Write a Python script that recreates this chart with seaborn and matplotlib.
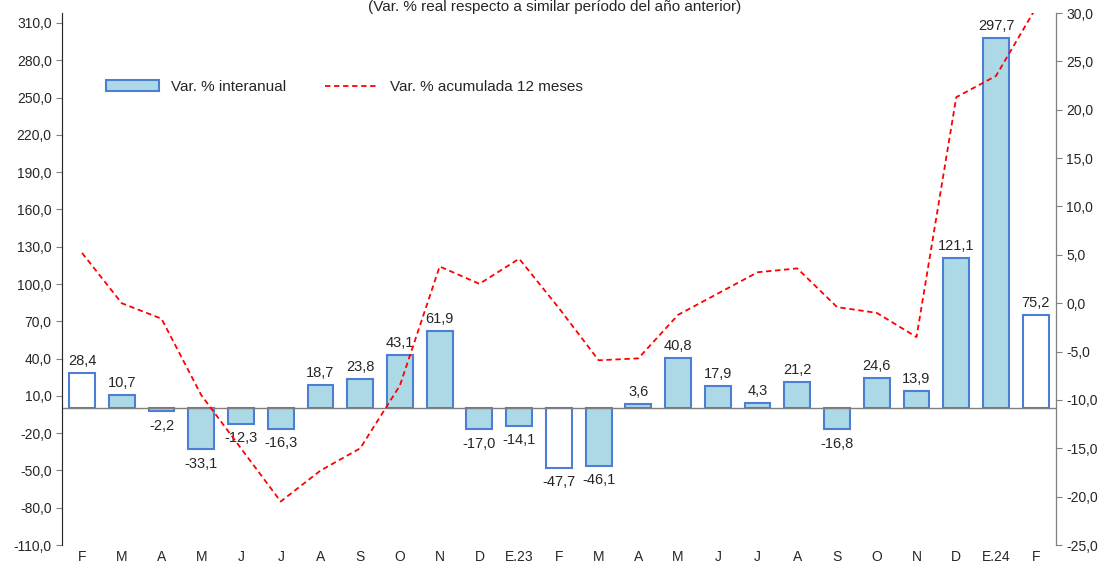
import matplotlib
matplotlib.use("Agg")
import matplotlib.pyplot as plt
from matplotlib.patches import Patch
import seaborn as sns
import numpy as np
import pandas as pd

months = ["F","M","A","M","J","J","A","S","O","N","D","E.23","F","M","A","M","J","J","A","S","O","N","D","E.24","F"]
interanual = [28.4,10.7,-2.2,-33.1,-12.3,-16.3,18.7,23.8,43.1,61.9,-17.0,-14.1,-47.7,-46.1,3.6,40.8,17.9,4.3,21.2,-16.8,24.6,13.9,121.1,297.7,75.2]
acumulada = [5.2,0.0,-1.6,-9.5,-15.0,-20.5,-17.3,-15.0,-8.5,3.8,2.0,4.6,-0.5,-5.9,-5.7,-1.2,1.0,3.2,3.6,-0.4,-1.0,-3.5,21.3,23.5,30.5]
white_idx = [0,12,24]

sns.set_style("white")
plt.rcParams['font.family'] = ['Liberation Sans','DejaVu Sans']
fig = plt.figure(figsize=(11.10,5.66), dpi=100)
ax = fig.add_axes([0.056,0.037,0.895,0.94])
x = np.arange(len(months))
df = pd.DataFrame({"x":x,"v":interanual})
sns.barplot(data=df, x="x", y="v", ax=ax, color="#add8e6", edgecolor="#4a7fd4", linewidth=1.5, width=0.65, saturation=1)
for i,p in enumerate(ax.patches):
    if i in white_idx:
        p.set_facecolor("white")
ax.axhline(0, color="#808080", lw=1)
ax.set_ylim(-110, 318)
ax.set_yticks(np.arange(-110, 311, 30))
ax.set_yticklabels([f"{v:.1f}".replace(".",",") for v in np.arange(-110,311,30)], fontsize=10)
ax.set_xticks(x); ax.set_xticklabels(months, fontsize=10)
ax.set_xlabel(""); ax.set_ylabel("")
ax.set_xlim(-0.5, len(months)-0.5)
for xi,v in zip(x,interanual):
    ax.text(xi, v+4 if v>=0 else v-6, f"{v:.1f}".replace(".",","), ha="center", va="bottom" if v>=0 else "top", fontsize=10.5)
ax.spines["top"].set_visible(False)
ax.spines["left"].set_color("#808080"); ax.spines["bottom"].set_visible(False)
ax2 = ax.twinx()
sns.lineplot(x=x, y=acumulada, ax=ax2, color="#ff0000", linestyle=(0,(3,2)), lw=1.3, legend=False)
ax2.set_ylim(-25, 30)
ax2.set_yticks(np.arange(-25, 31, 5))
ax2.set_yticklabels([f"{v:.1f}".replace(".",",") for v in np.arange(-25,31,5)], fontsize=10)
ax2.spines["top"].set_visible(False); ax2.spines["bottom"].set_visible(False)
ax2.spines["right"].set_color("#808080")
ax.tick_params(axis="y", left=True, length=4, color="#808080")
ax2.tick_params(axis="y", right=True, length=4, color="#808080")
ax.tick_params(axis="x", length=0)
h1 = Patch(facecolor="#add8e6", edgecolor="#4a7fd4", linewidth=1.5)
h2 = ax2.get_lines()[0]
ax.legend([h1, h2], ["Var. % interanual","Var. % acumulada 12 meses"], loc="upper left", bbox_to_anchor=(0.03,0.9), ncol=2, frameon=False, fontsize=11, columnspacing=2.5, handlelength=3.5)
fig.text(0.5, 0.987, "(Var. % real respecto a similar período del año anterior)", ha="center", va="center", fontsize=11)
fig.savefig("out.png", dpi=100)
